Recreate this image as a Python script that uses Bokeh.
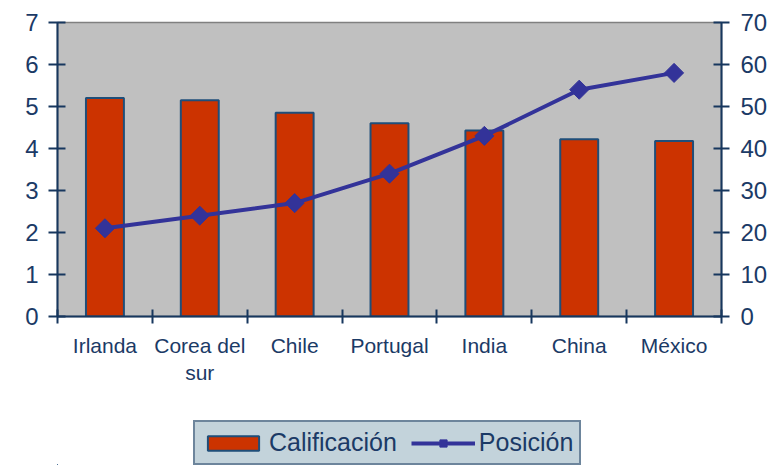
import numpy as np
from bokeh.plotting import figure
from bokeh.layouts import column
from bokeh.models import (Range1d, LinearAxis, FixedTicker, Legend, LegendItem,
                          ColumnDataSource)
from bokeh.embed import file_html
from bokeh.resources import INLINE

# ---- data ----
paises = ["Irlanda", "Corea del\nsur", "Chile", "Portugal", "India", "China", "México"]
calificacion = [5.2, 5.15, 4.85, 4.6, 4.43, 4.22, 4.18]
posicion = [21, 24, 27, 34, 43, 54, 58]
left_ticks = [0, 1, 2, 3, 4, 5, 6, 7]
right_ticks = [0, 10, 20, 30, 40, 50, 60, 70]

NAVY = "#17375E"
TEXT = "#1B3A66"
FONT = "Liberation Sans"
BAR_FILL = "#CC3300"
BAR_LINE = "#1F4E79"
LINE_COL = "#333399"

xs = np.arange(len(paises)) + 0.5
src = ColumnDataSource(dict(x=xs, calif=calificacion, pos=posicion))

p = figure(frame_width=664, frame_height=294, output_backend="svg",
           toolbar_location=None, x_range=Range1d(0, len(paises)),
           y_range=Range1d(0, 7), min_border_left=57, min_border_right=48,
           min_border_top=22, min_border_bottom=99,
           x_axis_location=None, y_axis_location=None)
p.extra_y_ranges = {"pos": Range1d(0, 70)}
p.background_fill_color = "#C0C0C0"
p.border_fill_color = "white"
p.outline_line_color = "#808080"
p.outline_line_width = 1.5
p.xgrid.visible = False
p.ygrid.visible = False

bars = p.vbar(x="x", top="calif", width=0.4, source=src, fill_color=BAR_FILL,
              line_color=BAR_LINE, line_width=2)
ln = p.line(x="x", y="pos", source=src, y_range_name="pos", line_color=LINE_COL,
            line_width=4)
sc = p.scatter(x="x", y="pos", source=src, y_range_name="pos", marker="square",
               angle=np.pi / 4, size=13.5, fill_color=LINE_COL, line_color=LINE_COL)

def style_axis(ax, size):
    ax.axis_line_color = NAVY
    ax.axis_line_width = 2
    ax.major_label_text_font = FONT
    ax.major_label_text_font_size = size
    ax.major_label_text_color = TEXT
    ax.minor_tick_line_color = None

# bottom axis: labels at centers, ticks at boundaries (as minor ticks)
xa = LinearAxis(ticker=FixedTicker(ticks=list(xs), minor_ticks=list(range(len(paises) + 1))))
style_axis(xa, "21px")
xa.major_label_overrides = {float(x): n for x, n in zip(xs, paises)}
xa.major_tick_line_color = None
xa.major_tick_in = 0
xa.major_tick_out = 7
xa.minor_tick_line_color = NAVY
xa.minor_tick_line_width = 2
xa.minor_tick_in = 7
xa.minor_tick_out = 7
xa.major_label_standoff = 10
p.add_layout(xa, "below")

ya = LinearAxis(ticker=FixedTicker(ticks=left_ticks))
style_axis(ya, "24px")
ya.major_tick_line_color = NAVY
ya.major_tick_line_width = 2
ya.major_tick_in = 8
ya.major_tick_out = 9
ya.major_label_standoff = 10
p.add_layout(ya, "left")

yb = LinearAxis(y_range_name="pos", ticker=FixedTicker(ticks=right_ticks))
style_axis(yb, "24px")
yb.major_tick_line_color = NAVY
yb.major_tick_line_width = 2
yb.major_tick_in = 8
yb.major_tick_out = 8
yb.major_label_standoff = 11
p.add_layout(yb, "right")

# ---- legend strip (separate figure placed under the chart) ----
# its renderers reuse the same data, but the ranges keep them out of view
lf = figure(width=769, height=50, output_backend="svg", toolbar_location=None,
            min_border=0, x_axis_location=None, y_axis_location=None,
            x_range=Range1d(100, 101), y_range=Range1d(100, 101))
lf.outline_line_color = None
lf.background_fill_color = "white"
lf.border_fill_color = "white"
lf.xgrid.visible = False
lf.ygrid.visible = False
lb = lf.vbar(x="x", top="calif", width=0.4, source=src, fill_color=BAR_FILL,
             line_color=BAR_LINE, line_width=2)
ll = lf.line(x="x", y="pos", source=src, line_color=LINE_COL, line_width=4)
ls = lf.scatter(x="x", y="pos", source=src, marker="square", angle=np.pi / 4,
                size=13.5, fill_color=LINE_COL, line_color=LINE_COL)

legend = Legend(items=[LegendItem(label="Calificación", renderers=[lb]),
                       LegendItem(label="Posición", renderers=[ll, ls])],
                orientation="horizontal", location=(136, 0),
                label_text_font=FONT, label_text_font_size="25px",
                label_text_color=TEXT, glyph_width=64, glyph_height=18,
                label_standoff=4, spacing=14, padding=6,
                background_fill_color="#C3D3DB", background_fill_alpha=1.0,
                border_line_color=NAVY, border_line_width=2, margin=0)
lf.add_layout(legend, "center")

layout = column(p, lf, spacing=0)
open("out.html", "w").write(file_html(layout, INLINE))
